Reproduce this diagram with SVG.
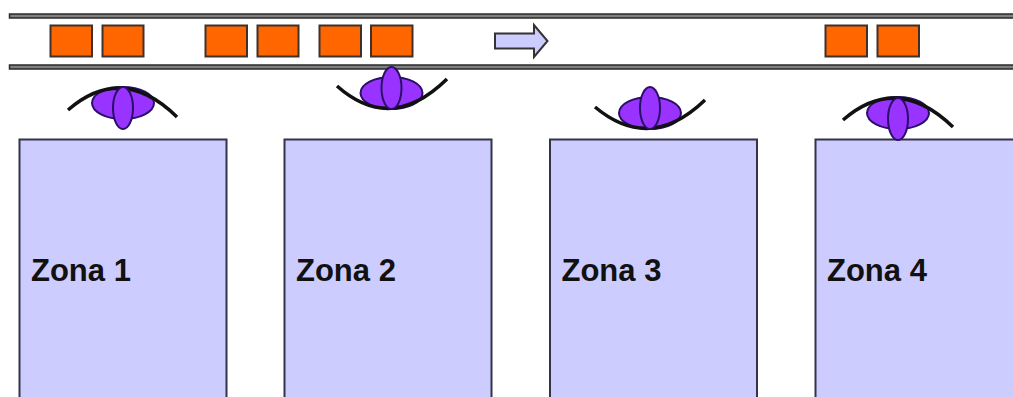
<svg xmlns="http://www.w3.org/2000/svg" width="1013" height="397" viewBox="0 0 1013 397">
<defs>
<style>
.rail{fill:#808080;stroke:#2a2a2a;stroke-width:1.500}
.car{fill:#ff6600;stroke:#40302a;stroke-width:2}
.zone{fill:#ccccff;stroke:#33334a;stroke-width:2}
.lbl{font-family:"Liberation Sans",Arial,sans-serif;font-weight:700;font-size:31px;fill:#111}
.pet{fill:#9933ff;stroke:#2a0f66;stroke-width:2}
.arc{fill:none;stroke:#111;stroke-width:3.500}
</style>
</defs>
<rect width="1013" height="397" fill="#fff"/>
<g id="rails">
<rect class="rail" x="9.500" y="14" width="1005" height="4"/>
<rect class="rail" x="9.500" y="65" width="1005" height="4"/>
</g>
<g id="cars">
<rect class="car" x="50.500" y="25.500" width="41.500" height="31"/>
<rect class="car" x="102.500" y="25.500" width="41" height="31"/>
<rect class="car" x="205.500" y="25.500" width="41.500" height="31"/>
<rect class="car" x="257.500" y="25.500" width="41" height="31"/>
<rect class="car" x="319.500" y="25.500" width="41.500" height="31"/>
<rect class="car" x="371" y="25.500" width="41.500" height="31"/>
<rect class="car" x="825.500" y="25.500" width="41.500" height="31"/>
<rect class="car" x="877.500" y="25.500" width="41.500" height="31"/>
</g>
<g id="flow-arrow">
<path d="M495 33.500H534V25L547.500 41L534 57V48.500H495Z" fill="#ccccff" stroke="#333" stroke-width="2"/>
</g>
<g id="zona-1"><rect class="zone" x="19.500" y="139.500" width="207" height="270"/><text class="lbl" x="31" y="281">Zona 1</text></g>
<g id="zona-2"><rect class="zone" x="284.500" y="139.500" width="207" height="270"/><text class="lbl" x="296" y="281">Zona 2</text></g>
<g id="zona-3"><rect class="zone" x="550" y="139.500" width="207" height="270"/><text class="lbl" x="561.500" y="281">Zona 3</text></g>
<g id="zona-4"><rect class="zone" x="815.500" y="139.500" width="207" height="270"/><text class="lbl" x="827" y="281">Zona 4</text></g>
<g id="sensor-1"><ellipse class="pet" cx="123" cy="103" rx="31" ry="16"/><path class="arc" d="M68 110Q122 63 177 117"/><ellipse class="pet" cx="123" cy="108" rx="10" ry="21"/></g>
<g id="sensor-2"><ellipse class="pet" cx="391.500" cy="93" rx="31" ry="16"/><path class="arc" d="M337 86Q391 134 447 79"/><ellipse class="pet" cx="391.500" cy="88" rx="10" ry="21"/></g>
<g id="sensor-3"><ellipse class="pet" cx="650" cy="113" rx="31" ry="16"/><path class="arc" d="M595 107Q650 153 705 100"/><ellipse class="pet" cx="650" cy="108" rx="10" ry="21"/></g>
<g id="sensor-4"><ellipse class="pet" cx="898" cy="113" rx="31" ry="16"/><path class="arc" d="M843 120Q897 73 953 127"/><ellipse class="pet" cx="898" cy="119" rx="10" ry="21"/></g>
</svg>
